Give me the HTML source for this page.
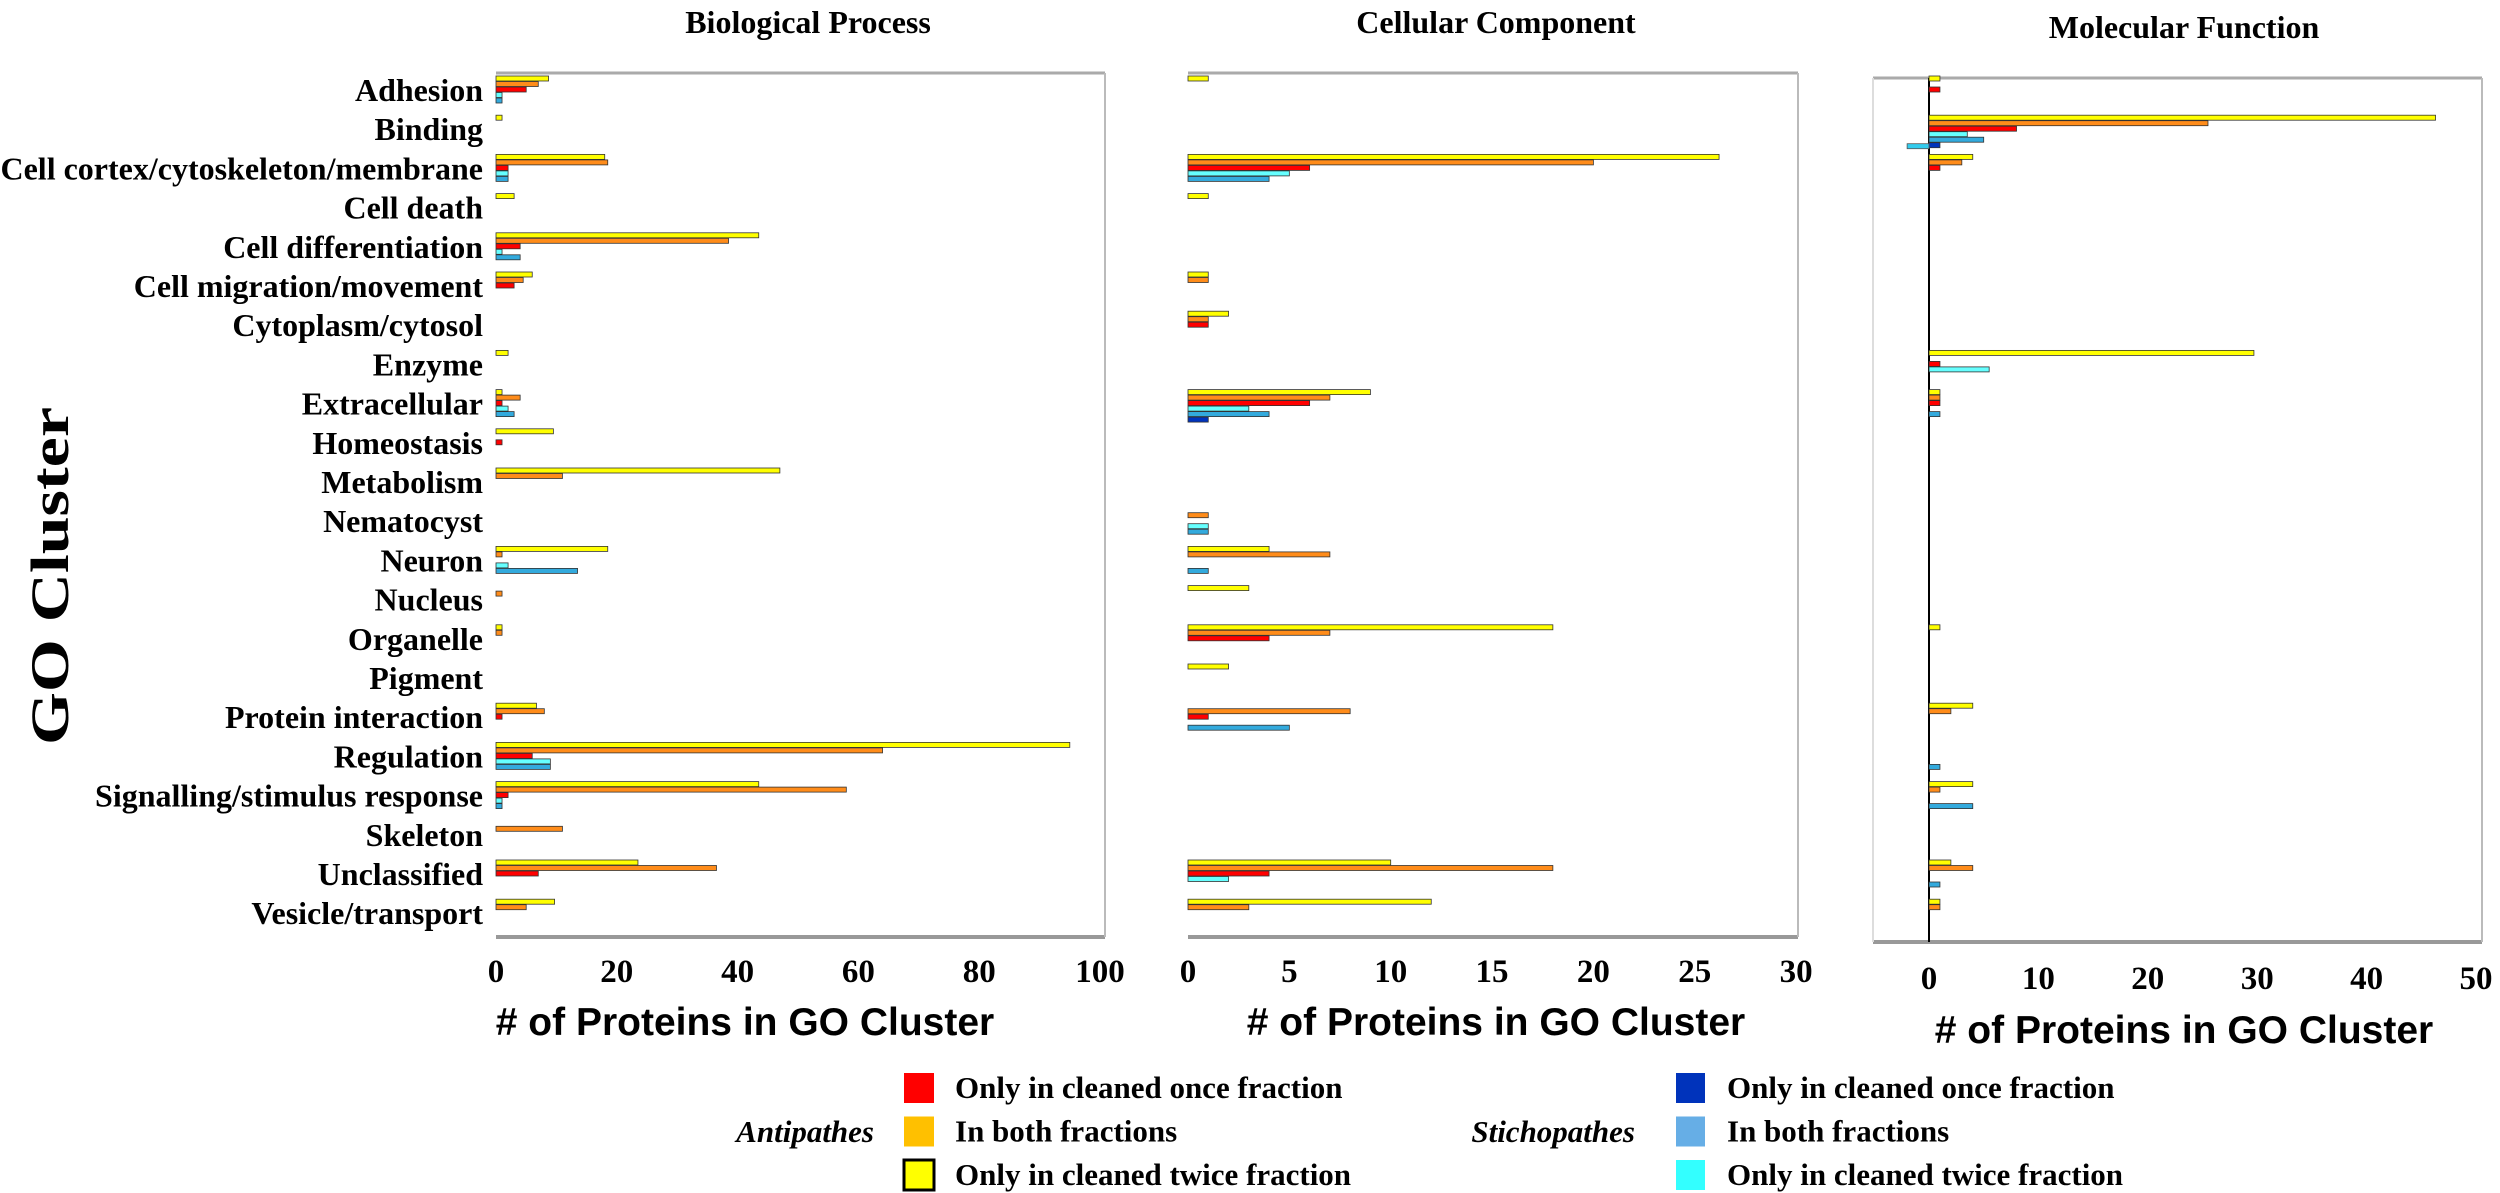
<!DOCTYPE html>
<html><head><meta charset="utf-8"><style>
html,body{margin:0;padding:0;background:#fff;}
svg{display:block;}
</style></head><body>
<svg id="s" width="2500" height="1193" xmlns="http://www.w3.org/2000/svg" font-family="'Liberation Serif',serif">
</svg>
<script>
var S=document.getElementById('s');var h='';
var cats=["Adhesion","Binding","Cell cortex/cytoskeleton/membrane","Cell death","Cell differentiation","Cell migration/movement","Cytoplasm/cytosol","Enzyme","Extracellular","Homeostasis","Metabolism","Nematocyst","Neuron","Nucleus","Organelle","Pigment","Protein interaction","Regulation","Signalling/stimulus response","Skeleton","Unclassified","Vesicle/transport"];
var cols=["#ffff00","#ff8c1a","#ff0000","#66ffff","#33aadd","#0033bb"];
function cy(i){return 90+i*39.2;}
var P=[
{z:496,s:6.04,fx:496,fr:1105,ft:73,fb:937,ticks:[0,20,40,60,80,100],ty:970,title:"Biological Process",tx:808,tty:22,ay:1022,ax:745,
d:{0:[8.7,7,5,1,1],1:[1],2:[18,18.5,2,2,2],3:[3],4:[43.5,38.5,4,1,4],5:[6,4.5,3],7:[2],8:[1,4,1,2,3],9:[9.5,0,1],10:[47,11],12:[18.5,1,0,2,13.5],13:[0,1],14:[1,1],16:[6.7,8,1],17:[95,64,6,9,9],18:[43.5,58,2,1,1],19:[0,11],20:[23.5,36.5,7],21:[9.7,5]}},
{z:1188,s:20.27,fx:1188,fr:1798,ft:73,fb:937,ticks:[0,5,10,15,20,25,30],ty:970,title:"Cellular Component",tx:1496,tty:22,ay:1022,ax:1496,
d:{0:[1],2:[26.2,20,6,5,4],3:[1],5:[1,1],6:[2,1,1],8:[9,7,6,3,4,1],11:[0,1,0,1,1],12:[4,7,0,0,1],13:[3],14:[18,7,4],15:[2],16:[0,8,1,0,5],20:[10,18,4,2],21:[12,3]}},
{z:1929,s:10.94,fx:1873,fr:2482,ft:78,fb:942,ticks:[0,10,20,30,40,50],ty:977,title:"Molecular Function",tx:2184,tty:27,ay:1030,ax:2184,
d:{0:[1,0,1],1:[46.3,25.5,8,3.5,5,1],2:[4,3,1],7:[29.7,0,1,5.5],8:[1,1,1,0,1],14:[1],16:[4,2],17:[0,0,0,0,1],18:[4,1,0,0,4],20:[2,4,0,0,1],21:[1,1]}}
];
P.forEach(function(p,k){
 h+='<line x1="'+p.fx+'" y1="'+p.ft+'" x2="'+p.fr+'" y2="'+p.ft+'" stroke="#aaa" stroke-width="3"/>';
 h+='<line x1="'+p.fx+'" y1="'+p.fb+'" x2="'+p.fr+'" y2="'+p.fb+'" stroke="#999" stroke-width="4"/>';
 h+='<line x1="'+p.fr+'" y1="'+p.ft+'" x2="'+p.fr+'" y2="'+p.fb+'" stroke="#bbb" stroke-width="2"/>';
 if(k==2){h+='<line x1="'+p.fx+'" y1="'+p.ft+'" x2="'+p.fx+'" y2="'+p.fb+'" stroke="#ddd" stroke-width="2"/>';
  h+='<line x1="1929" y1="'+p.ft+'" x2="1929" y2="'+p.fb+'" stroke="#000" stroke-width="2"/>';}
 for(var i in p.d){var a=p.d[i];for(var j=0;j<a.length;j++){if(!a[j])continue;
  var w=a[j]*p.s,y=cy(+i)-14+j*5.5;h+='<rect x="'+p.z+'" y="'+y+'" width="'+w+'" height="5" fill="'+cols[j]+'" stroke="#333" stroke-width="0.8"/>';}}
 if(k==2){h+='<rect x="'+(1929-2*p.s)+'" y="'+(cy(1)-14+5*5.5+1)+'" width="'+(2*p.s)+'" height="5" fill="#33ccee" stroke="#555" stroke-width="0.8"/>';}
 p.ticks.forEach(function(t){h+='<text x="'+(p.z+t*p.s)+'" y="'+(p.ty+12)+'" font-size="33" font-weight="bold" text-anchor="middle">'+t+'</text>';});
 h+='<text x="'+p.tx+'" y="'+(p.tty+11)+'" font-size="32" font-weight="bold" text-anchor="middle">'+p.title+'</text>';
 h+='<text x="'+p.ax+'" y="'+(p.ay+13)+'" font-size="39" font-weight="bold" text-anchor="middle" font-family="Liberation Sans,sans-serif">'+"# of Proteins in GO Cluster"+'</text>';
});
cats.forEach(function(c,i){h+='<text x="483" y="'+(cy(i)+11)+'" font-size="32" font-weight="bold" text-anchor="end">'+c+'</text>';});
h+='<text transform="translate(68,576) rotate(-90) scale(1,0.8)" font-size="68" font-weight="bold" text-anchor="middle">GO Cluster</text>';
var L=[["#ff0000","#0033bb","Only in cleaned once fraction"],["#ffc000","#66aee6","In both fractions"],["#ffff00","#33ffff","Only in cleaned twice fraction"]];
L.forEach(function(r,i){var y=1088+i*43.5;
 h+='<rect x="904" y="'+(y-15)+'" width="30" height="30" fill="'+r[0]+'" stroke="'+(i==2?'#000':'none')+'" stroke-width="3"/>';
 h+='<text x="955" y="'+(y+10)+'" font-size="31" font-weight="bold">'+r[2]+'</text>';
 h+='<rect x="1676" y="'+(y-15)+'" width="29" height="30" fill="'+r[1]+'"/>';
 h+='<text x="1727" y="'+(y+10)+'" font-size="31" font-weight="bold">'+r[2]+'</text>';});
h+='<text x="874" y="1142" font-size="31" font-weight="bold" font-style="italic" text-anchor="end">Antipathes</text>';
h+='<text x="1635" y="1142" font-size="31" font-weight="bold" font-style="italic" text-anchor="end">Stichopathes</text>';
S.innerHTML=h;
</script>
</body></html>
